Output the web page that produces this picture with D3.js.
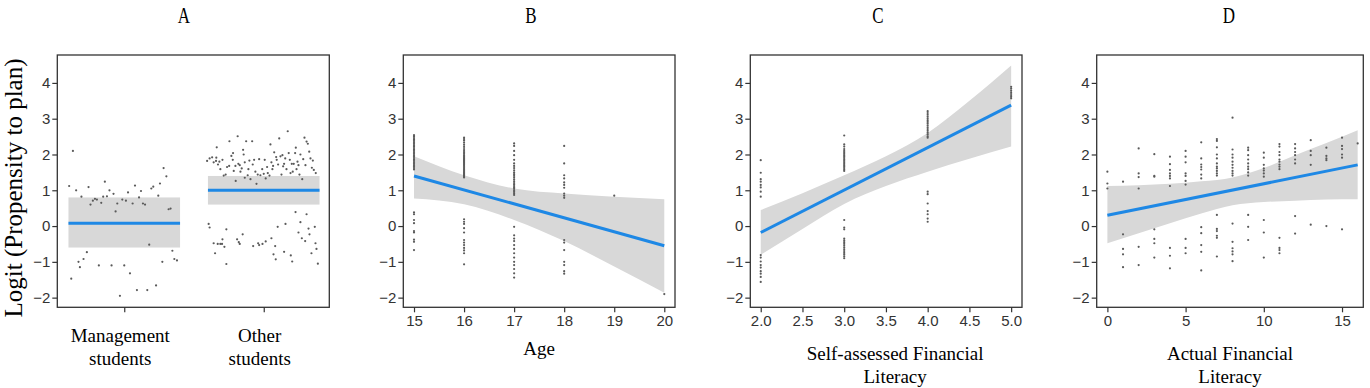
<!DOCTYPE html>
<html lang="en">
<head>
<meta charset="UTF-8">
<title>Logit (Propensity to plan)</title>
<script src="https://cdn.jsdelivr.net/npm/d3@7"></script>
<style>
  body { margin: 0; background: #fff; }
  .tick text { font-family: "Liberation Sans", Arial, sans-serif; font-size: 15px; fill: #333; }
  .tick line { stroke: #333; stroke-width: 1.2; }
  .lab { font-family: "Liberation Serif", "Times New Roman", serif; font-size: 19px; fill: #000; }
</style>
</head>
<body>
<svg width="1370" height="388"></svg>
<script>
// ---------- data ----------
const titles = ["A", "B", "C", "D"];
const yTicks = [-2, -1, 0, 1, 2, 3, 4];

// A: group means with interval, jittered points (x in group units: 1 = Management, 2 = Other)
const groups = ["Management students", "Other students"];
const groupFit = [0.08, 1.0];
const groupLo = [-0.6, 0.6];
const groupHi = [0.8, 1.4];
const mgmtX = [0.605,0.632,0.62,0.655,0.672,0.682,0.693,0.708,0.732,0.744,0.758,0.775,0.79,0.804,0.818,0.835,0.849,0.861,0.876,0.894,
  0.909,0.923,0.938,0.95,0.969,0.986,1.0,1.012,1.027,1.041,1.06,1.077,1.091,1.106,1.12,1.134,1.149,1.165,1.179,1.194,
  1.208,1.228,1.244,1.256,1.273,1.282,1.302,1.318,1.332,1.345,1.359,1.378];
const mgmtY = [1.12,2.10,-1.47,1.0,-1.0,-1.15,0.82,-0.92,-0.73,1.09,0.6,0.71,0.76,0.74,-1.1,0.65,0.82,1.24,0.83,1.0,
  -1.1,0.9,0.41,0.63,-1.95,0.74,-1.1,0.71,0.94,-1.32,0.63,1.13,-1.79,0.8,0.98,0.63,0.6,-1.79,-0.52,1.05,
  1.1,-1.66,0.85,1.19,-1.0,1.62,1.39,0.47,0.49,-0.69,-0.92,-0.96];
const otherX = [1.594,1.612,1.630,1.641,1.658,1.660,1.672,1.663,1.682,1.689,1.704,1.713,1.727,1.737,1.754,1.752,1.768,1.778,1.780,1.785,
  1.799,1.797,1.813,1.818,1.828,1.833,1.842,1.852,1.856,1.864,1.864,1.874,1.885,1.890,1.897,1.905,1.917,1.921,1.931,1.940,
  1.948,1.957,1.967,1.976,1.989,2.0,2.007,2.014,2.024,2.029,2.041,2.048,2.055,2.062,2.067,2.075,2.089,2.093,2.103,2.111,
  2.120,2.127,2.134,2.139,2.146,2.154,2.163,2.172,2.179,2.187,2.192,2.201,2.208,2.215,2.225,2.230,2.235,2.242,2.249,2.256,
  2.263,2.276,2.283,2.292,2.299,2.307,2.316,2.326,2.335,2.345,2.352,2.359,2.373,
  1.605,1.612,1.641,1.651,1.670,1.689,1.701,1.704,1.718,1.732,1.732,1.809,1.821,1.828,1.849,1.924,1.960,1.967,1.991,2.014,
  2.055,2.070,2.082,2.086,2.100,2.146,2.156,2.194,2.204,2.249,2.263,2.273,2.297,2.321,2.328,2.342,2.366,2.371,2.378,2.388,
  2.228,2.307];
const otherY = [1.82,1.89,1.92,1.78,1.82,1.91,1.72,2.20,1.80,1.59,1.85,1.41,1.44,1.65,2.37,1.68,1.96,1.85,2.04,1.54,
  1.26,1.68,2.51,1.74,1.70,1.52,1.61,2.13,2.00,1.78,1.35,2.37,1.42,1.59,1.83,1.31,2.37,1.72,1.85,1.52,
  1.18,1.44,1.87,1.42,1.59,1.46,1.85,1.33,1.65,1.48,1.41,2.28,1.78,1.59,1.68,2.06,1.93,1.85,1.72,2.45,
  1.95,1.44,1.98,1.67,1.74,1.89,1.59,2.65,2.04,1.85,1.48,1.74,1.52,1.74,2.04,2.19,1.59,1.80,1.70,1.44,
  2.00,1.31,1.87,2.47,1.70,2.36,2.30,2.08,1.89,1.63,1.83,1.57,1.48,
  0.06,-0.04,-0.48,-0.76,-0.50,-0.50,-0.50,-0.37,-0.58,-0.09,-1.06,-0.37,-0.45,-0.50,-0.23,-0.56,-0.48,-0.53,-0.50,-0.43,
  -0.34,-0.79,-0.56,-0.93,-0.02,-0.72,0.06,-0.82,-0.99,-0.18,0.11,-0.34,-0.42,-0.07,-0.23,-0.76,-0.02,-0.48,-0.64,-1.05,
  0.39,0.33];

// B: Age
const ageValues = [15, 16, 17, 18, 19, 20];
const ageY = [
  [2.54,2.50,2.46,2.42,2.38,2.34,2.30,2.26,2.22,2.18,2.14,2.10,2.06,2.02,1.98,1.94,1.90,1.86,1.82,1.78,1.74,1.70,1.66,1.62,1.58,
   0.38,0.33,0.17,0.08,-0.14,-0.18,-0.38,-0.44,-0.67],
  [2.47,2.43,2.39,2.33,2.27,2.21,2.15,2.10,2.06,2.02,1.98,1.95,1.92,1.89,1.86,1.83,1.80,1.77,1.74,1.71,1.68,1.65,1.62,1.59,1.56,
   1.53,1.50,1.47,1.44,1.41,1.38,1.36,0.19,0.12,0.06,-0.06,-0.18,-0.39,-0.46,-0.53,-0.61,-0.68,-0.76,-1.07],
  [2.31,2.24,2.10,1.98,1.85,1.75,1.68,1.62,1.56,1.50,1.45,1.40,1.35,1.30,1.25,1.20,1.16,1.12,1.08,1.04,1.00,0.96,0.92,0.87,
   -0.02,-0.26,-0.35,-0.42,-0.53,-0.64,-0.76,-0.88,-1.0,-1.09,-1.2,-1.32,-1.44],
  [2.24,1.75,1.42,1.33,1.22,1.15,1.07,0.91,0.85,0.79,-0.39,-0.46,-0.67,-1.0,-1.09,-1.26,-1.33],
  [0.85],
  [-1.90]
];
const ageFitX = [15, 20];
const ageFitY = [1.40, -0.55];
const ageCiHi = [1.95, 1.42, 1.05, 0.91, 0.82, 0.75];
const ageCiLo = [0.77, 0.61, 0.17, -0.42, -1.13, -1.86];

// C: Self-assessed Financial Literacy
const selfValues = [2, 3, 4, 5];
const selfY = [
  [1.84,1.49,1.31,1.24,1.15,1.08,0.96,0.82,-0.81,-0.88,-0.99,-1.09,-1.16,-1.26,-1.33,-1.42,-1.56],
  [2.53,2.28,2.22,2.15,2.10,2.06,2.02,1.98,1.94,1.90,1.86,1.82,1.78,1.74,1.70,1.66,1.62,1.58,1.54,
   0.17,-0.04,-0.09,-0.35,-0.40,-0.45,-0.50,-0.55,-0.60,-0.65,-0.70,-0.75,-0.80,-0.85,-0.90],
  [3.21,3.16,3.11,3.06,3.01,2.96,2.91,2.86,2.81,2.76,2.71,2.66,2.61,2.56,2.51,2.47,0.96,0.89,0.63,0.42,0.33,0.21,0.12],
  [3.89,3.84,3.78,3.72,3.66,3.61,3.57]
];
const selfFitX = [2, 5];
const selfFitY = [-0.18, 3.38];
const selfCiX = [2, 2.5, 3, 3.5, 4, 4.5, 5];
const selfCiHi = [0.45, 0.92, 1.42, 1.95, 2.6, 3.5, 4.49];
const selfCiLo = [-0.80, -0.08, 0.62, 1.12, 1.52, 1.88, 2.22];

// D: Actual Financial Literacy
const actualValues = [0,1,2,3,4,5,6,7,8,9,10,11,12,13,14,15,16];
const actualY = [
  [1.52,1.19,1.05],
  [1.24,-0.23,-0.64,-0.79,-1.15],
  [2.17,1.47,1.37,1.05,-0.58,-1.09],
  [2.01,1.40,1.38,-0.09,-0.36,-0.48,-0.88],
  [1.94,1.73,1.57,1.47,1.40,1.33,1.12,-0.61,-0.83,-1.18],
  [2.10,1.94,1.78,1.47,1.40,1.26,1.16,-0.36,-0.61,-0.76],
  [2.34,1.89,1.72,1.65,1.58,1.44,1.33,-0.03,-0.20,-0.53,-0.72,-1.24],
  [2.43,2.38,2.20,2.00,1.89,1.75,1.66,1.61,1.54,1.47,1.41,0.31,-0.08,-0.14,-0.27,-0.33,-0.85],
  [3.03,2.14,2.00,1.91,1.80,1.71,1.63,1.54,1.47,1.41,0.07,-0.44,-0.62,-0.71,-0.79,-0.98],
  [2.19,2.12,1.98,1.86,1.75,1.66,1.59,1.50,1.41,0.31,-0.02,-0.39],
  [2.05,1.91,1.71,1.61,1.55,1.47,1.38,0.17,-0.18,-0.88],
  [2.29,2.22,2.07,1.98,1.86,1.80,1.72,1.66,1.59,-0.33,-0.61,-0.67,-0.76],
  [2.29,2.17,2.07,1.98,1.86,1.75,0.28,-0.21],
  [2.40,2.10,1.98,1.71,0.04],
  [2.19,1.96,1.89,1.84,0.00],
  [2.47,2.24,2.15,2.00,1.91,-0.09],
  [2.31]
];
const actualFitX = [0, 16];
const actualFitY = [0.30, 1.71];
const actualCiX = [0, 2, 4, 6, 8, 10, 12, 14, 16];
const actualCiHi = [1.12, 1.14, 1.18, 1.25, 1.36, 1.62, 1.98, 2.32, 2.68];
const actualCiLo = [-0.48, -0.20, 0.08, 0.35, 0.58, 0.67, 0.71, 0.74, 0.75];

// ---------- layout ----------
const svg = d3.select("svg");
const plotTop = 55, plotBottom = 307.3;
const lineColor = "#1e88e5", bandColor = "#d8d8d8", dotColor = "#5a5a5a";

const y = d3.scaleLinear().domain([-2.27, 4.78]).range([plotBottom, plotTop]);

// helper: group + y axis for a panel
function frame(left, width) {
  const g = svg.append("g");
  g.append("g")
    .attr("transform", "translate(" + left + ",0)")
    .call(d3.axisLeft(y).tickValues(yTicks).tickFormat(d3.format("d")).tickSize(5).tickPadding(2))
    .call(a => a.select(".domain").remove());
  return g;
}
function border(g, left, width) {
  g.append("rect")
    .attr("x", left).attr("y", plotTop)
    .attr("width", width).attr("height", plotBottom - plotTop)
    .attr("fill", "none").attr("stroke", "#333").attr("stroke-width", 1.3);
}
function xAxis(g, x, ticks, fmt) {
  g.append("g")
    .attr("transform", "translate(0," + plotBottom + ")")
    .call(d3.axisBottom(x).tickValues(ticks).tickFormat(fmt).tickSize(5).tickPadding(3))
    .call(a => a.select(".domain").remove());
}
function xLabel(g, cx, lines, y0) {
  const t = g.append("text").attr("class", "lab").attr("text-anchor", "middle");
  lines.forEach((s, i) => {
    t.append("tspan").attr("x", cx).attr("y", y0 + i * 23.3).text(s);
  });
}
function stripPanel(g, x, values, ys, ciX, hi, lo, fitX, fitY) {
  const band = d3.area()
    .x((d, i) => x(ciX[i]))
    .y0((d, i) => y(lo[i]))
    .y1((d, i) => y(hi[i]))
    .curve(d3.curveMonotoneX);
  g.append("path").datum(ciX).attr("d", band).attr("fill", bandColor);
  const pts = [];
  values.forEach((v, i) => ys[i].forEach(val => pts.push([v, val])));
  g.selectAll(null).data(pts).enter().append("circle")
    .attr("cx", d => x(d[0])).attr("cy", d => y(d[1]))
    .attr("r", 1.1).attr("fill", dotColor);
  g.append("path").datum(fitX)
    .attr("d", d3.line().x(d => x(d)).y((d, i) => y(fitY[i])))
    .attr("stroke", lineColor).attr("stroke-width", 3).attr("fill", "none");
}

// ---------- panel A ----------
{
  const left = 57.3, width = 272;
  const g = frame(left, width);
  const x = d3.scaleLinear().domain([0.52, 2.47]).range([left, left + width]);
  const half = 0.4;
  groups.forEach((name, i) => {
    g.append("rect")
      .attr("x", x(i + 1 - half)).attr("y", y(groupHi[i]))
      .attr("width", x(i + 1 + half) - x(i + 1 - half))
      .attr("height", y(groupLo[i]) - y(groupHi[i]))
      .attr("fill", bandColor);
  });
  const pts = mgmtX.map((v, i) => [v, mgmtY[i]]).concat(otherX.map((v, i) => [v, otherY[i]]));
  g.selectAll(null).data(pts).enter().append("circle")
    .attr("cx", d => x(d[0])).attr("cy", d => y(d[1]))
    .attr("r", 1.1).attr("fill", dotColor);
  groups.forEach((name, i) => {
    g.append("line")
      .attr("x1", x(i + 1 - half)).attr("x2", x(i + 1 + half))
      .attr("y1", y(groupFit[i])).attr("y2", y(groupFit[i]))
      .attr("stroke", lineColor).attr("stroke-width", 3);
  });
  border(g, left, width);
  xAxis(g, x, [1, 2], () => "");
  groups.forEach((name, i) => xLabel(g, x(i + 1) - 4, name.split(" "), 341.7));
}

// ---------- panel B ----------
{
  const left = 403.3, width = 271.7;
  const g = frame(left, width);
  const x = d3.scaleLinear().domain([14.786, 20.214]).range([left, left + width]);
  stripPanel(g, x, ageValues, ageY, ageValues, ageCiHi, ageCiLo, ageFitX, ageFitY);
  border(g, left, width);
  xAxis(g, x, ageValues, d3.format("d"));
  xLabel(g, left + width / 2, ["Age"], 355);
}

// ---------- panel C ----------
{
  const left = 750.3, width = 271.7;
  const g = frame(left, width);
  const x = d3.scaleLinear().domain([1.875, 5.13]).range([left, left + width]);
  stripPanel(g, x, selfValues, selfY, selfCiX, selfCiHi, selfCiLo, selfFitX, selfFitY);
  border(g, left, width);
  xAxis(g, x, [2, 2.5, 3, 3.5, 4, 4.5, 5], d3.format(".1f"));
  xLabel(g, left + width / 2 + 9, ["Self-assessed Financial", "Literacy"], 360);
}

// ---------- panel D ----------
{
  const left = 1096.7, width = 266.6;
  const g = frame(left, width);
  const x = d3.scaleLinear().domain([-0.683, 16.36]).range([left, left + width]);
  stripPanel(g, x, actualValues, actualY, actualCiX, actualCiHi, actualCiLo, actualFitX, actualFitY);
  border(g, left, width);
  xAxis(g, x, [0, 5, 10, 15], d3.format("d"));
  xLabel(g, left + width / 2, ["Actual Financial", "Literacy"], 360);
}

// ---------- titles and y label ----------
const titleX = [184, 531, 878, 1229];
titles.forEach((t, i) => {
  svg.append("text")
    .attr("transform", "translate(" + titleX[i] + ",23) scale(0.85,1.2)")
    .attr("text-anchor", "middle")
    .attr("class", "lab").style("font-size", "20px")
    .text(t);
});
svg.append("text")
  .attr("class", "lab")
  .attr("transform", "translate(22,188) rotate(-90)")
  .attr("text-anchor", "middle")
  .style("font-size", "25px")
  .text("Logit (Propensity to plan)");
</script>
</body>
</html>
